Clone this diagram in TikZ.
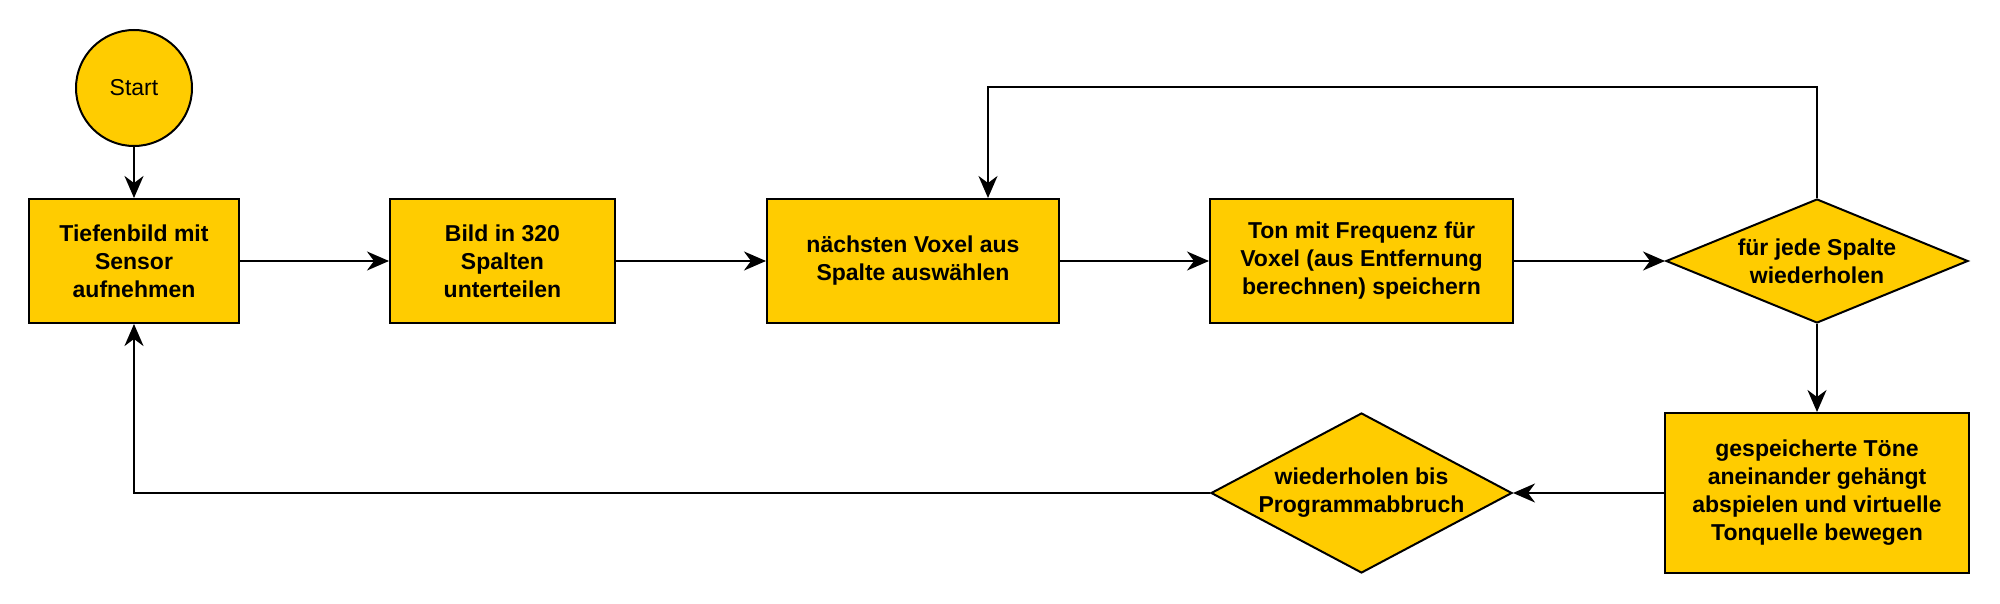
\documentclass[tikz,border=0pt]{standalone}
\usepackage{fontspec}
\setmainfont{Liberation Sans}
\usetikzlibrary{shapes.geometric,arrows.meta}
\definecolor{boxfill}{HTML}{FFCC00}
\tikzset{
  base/.style={draw=black, fill=boxfill, line width=2pt, inner sep=0pt, align=center,
    font=\fontsize{23pt}{28pt}\selectfont\bfseries},
  stepbox/.style={base, rectangle, minimum width=#1, minimum height=124pt},
  decide/.style={base, diamond, minimum width=#1},
  conn/.style={line width=2pt, -{Stealth[length=22pt,width=19pt,inset=7pt]}}
}
\begin{document}
\begin{tikzpicture}[x=1pt,y=-1pt]
\useasboundingbox (0,0) rectangle (2000,604);
\node[base, circle, minimum size=116pt, font=\fontsize{23pt}{28pt}\selectfont] (start) at (134,88) {Start};
\node[stepbox=210pt] (b1) at (134,261) {Tiefenbild mit\\Sensor\\aufnehmen};
\node[stepbox=225pt] (b2) at (502.5,261) {Bild in 320\\Spalten\\unterteilen};
\node[stepbox=292pt] (b3) at (913,261) {nächsten Voxel aus\\Spalte auswählen};
\node[stepbox=303pt] (b4) at (1361.5,261) {Ton mit Frequenz für\\Voxel (aus Entfernung\\berechnen) speichern};
\node[decide=302pt, minimum height=124pt, shape aspect=2.44] (d1) at (1817,261) {für jede Spalte\\wiederholen};
\node[stepbox=304pt, minimum height=160pt] (b5) at (1817,493) {gespeicherte Töne\\aneinander gehängt\\abspielen und virtuelle\\Tonquelle bewegen};
\node[decide=301pt, minimum height=160pt, shape aspect=1.88] (d2) at (1361.5,493) {wiederholen bis\\Programmabbruch};
\coordinate (looptop) at (988,87);
\draw[conn] (start.south) -- (b1.north);
\draw[conn] (b1.east) -- (b2.west);
\draw[conn] (b2.east) -- (b3.west);
\draw[conn] (b3.east) -- (b4.west);
\draw[conn] (b4.east) -- (d1.west);
\draw[conn] (d1.north) |- (looptop) -- (looptop |- b3.north);
\draw[conn] (d1.south) -- (b5.north);
\draw[conn] (b5.west) -- (d2.east);
\draw[conn] (d2.west) -| (b1.south);
\end{tikzpicture}
\end{document}
